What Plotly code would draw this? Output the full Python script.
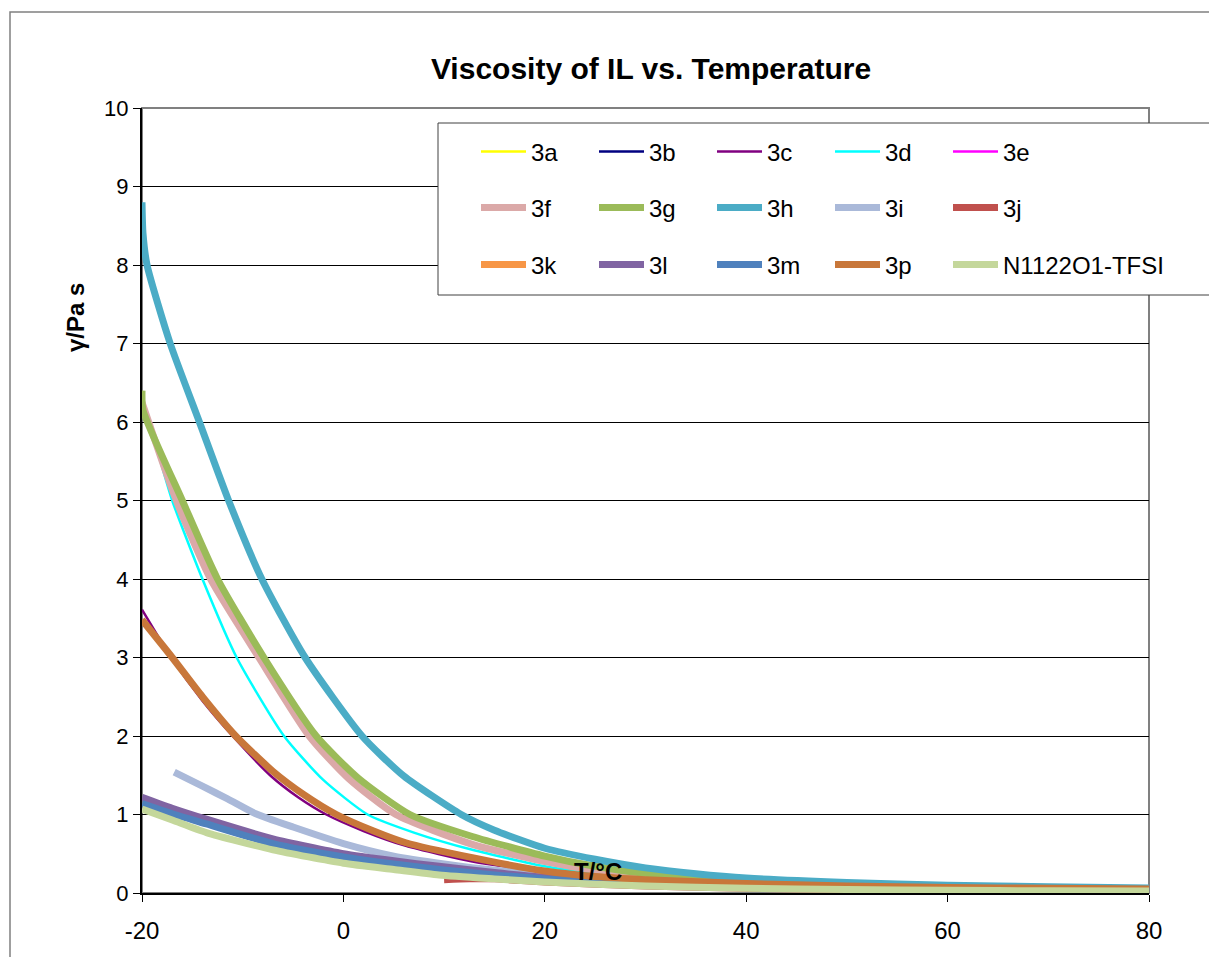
import plotly.graph_objects as go

# ---------------- data ----------------
names = ["3a", "3b", "3c", "3d", "3e", "3f", "3g", "3h", "3i", "3j",
         "3k", "3l", "3m", "3p", "N1122O1-TFSI"]

colors = ["#FFFF00", "#000080", "#800080", "#00FFFF", "#FF00FF",
          "#DBA9A8", "#9BBB59", "#4BACC6", "#AAB9D9", "#C0504D",
          "#F79646", "#8064A2", "#4F81BD", "#C8773A", "#C4D79B"]

widths = [2.5, 2.5, 2.5, 2.5, 2.5, 7, 7, 7, 7, 7, 7, 7, 7, 7, 7]

# series not visible in the plot area (only present in the legend)
t_3a, v_3a = [None], [None]
t_3b, v_3b = [None], [None]
t_3e, v_3e = [None], [None]
t_3k, v_3k = [None], [None]

t_3c = [-20, -17.1, -14, -11, -7.2, -4.5, -1.7, 2, 6.2, 12.8, 20, 25, 30, 40, 50, 60, 70, 80]
v_3c = [3.61, 3.0, 2.45, 2.0, 1.49, 1.22, 1.0, 0.79, 0.6, 0.4, 0.27, 0.2, 0.15, 0.095, 0.065, 0.05, 0.038, 0.03]

t_3d = [-20, -18.4, -17, -14, -10.6, -5.9, -2, 2.4, 7, 12.8, 20, 25, 30, 40, 50, 60, 70, 80]
v_3d = [6.2, 5.6, 5.0, 4.0, 3.0, 2.0, 1.44, 1.0, 0.77, 0.55, 0.34, 0.25, 0.19, 0.11, 0.075, 0.055, 0.042, 0.035]

t_3f = [-20, -16.6, -13.2, -8.4, -3.4, 0.5, 5.2, 12.8, 20, 25, 30, 40, 50, 60, 70, 80]
v_3f = [6.25, 5.0, 4.0, 3.0, 2.0, 1.46, 1.0, 0.62, 0.4, 0.29, 0.22, 0.13, 0.09, 0.065, 0.052, 0.045]

t_3g = [-20, -19.9, -16, -12.5, -7.9, -2.7, 1.5, 6.6, 12.8, 20, 25, 30, 35, 40, 50, 60, 70, 80]
v_3g = [6.4, 6.15, 5.0, 4.0, 3.0, 2.0, 1.46, 1.0, 0.72, 0.47, 0.34, 0.25, 0.19, 0.15, 0.1, 0.075, 0.06, 0.05]

t_3h = [-20, -19.9, -19.5, -17.2, -14.3, -11.4, -8.1, -3.8, 1.85, 6, 11.7, 15, 20, 25, 30, 35, 40, 50, 60, 70, 80]
v_3h = [8.8, 8.4, 8.0, 7.0, 6.0, 5.0, 4.0, 3.0, 2.0, 1.49, 1.0, 0.8, 0.57, 0.43, 0.32, 0.245, 0.19, 0.135, 0.1, 0.08, 0.065]

t_3i = [-16.8, -14, -11.5, -8.7, -5, 0, 5, 10, 15, 20, 25, 30, 40, 50, 60, 70, 80]
v_3i = [1.54, 1.36, 1.2, 1.01, 0.84, 0.63, 0.47, 0.37, 0.29, 0.24, 0.19, 0.15, 0.1, 0.07, 0.05, 0.04, 0.032]

t_3j = [10, 12.5, 15, 20, 30, 40, 50, 60, 70, 80]
v_3j = [0.17, 0.18, 0.18, 0.14, 0.09, 0.06, 0.045, 0.035, 0.028, 0.025]

t_3l = [-20, -17, -13.6, -7, 0, 5, 9.5, 15, 20, 30, 40, 50, 60, 70, 80]
v_3l = [1.22, 1.08, 0.94, 0.69, 0.5, 0.41, 0.34, 0.26, 0.2, 0.13, 0.09, 0.065, 0.05, 0.04, 0.035]

t_3m = [-20, -17, -13.6, -7, 0, 5, 9.5, 15, 20, 30, 40, 50, 60, 70, 80]
v_3m = [1.14, 1.01, 0.88, 0.63, 0.46, 0.37, 0.3, 0.23, 0.18, 0.12, 0.08, 0.058, 0.045, 0.036, 0.03]

t_3p = [-20, -17, -14, -10.7, -7, -4, -0.7, 3, 6.2, 12.8, 20, 25, 30, 40, 50, 60, 70, 80]
v_3p = [3.48, 3.0, 2.5, 2.0, 1.55, 1.26, 1.0, 0.79, 0.64, 0.45, 0.28, 0.21, 0.17, 0.12, 0.09, 0.07, 0.06, 0.05]

t_n = [-20, -17, -13.6, -7, 0, 5, 9.5, 15, 20, 30, 40, 50, 60, 70, 80]
v_n = [1.07, 0.93, 0.77, 0.55, 0.38, 0.3, 0.23, 0.18, 0.14, 0.09, 0.06, 0.045, 0.035, 0.028, 0.025]

series_t = [t_3a, t_3b, t_3c, t_3d, t_3e, t_3f, t_3g, t_3h, t_3i, t_3j,
            t_3k, t_3l, t_3m, t_3p, t_n]
series_v = [v_3a, v_3b, v_3c, v_3d, v_3e, v_3f, v_3g, v_3h, v_3i, v_3j,
            v_3k, v_3l, v_3m, v_3p, v_n]

x_ticks = [-20, 0, 20, 40, 60, 80]
x_ticktext = ["-20", "0", "20", "40", "60", "80"]
y_ticks = list(range(0, 11))

title_text = "Viscosity of IL vs. Temperature"
x_title = "T/°C"
y_title = "γ/Pa s"

# ---------------- figure ----------------
FONT = "Liberation Sans, Arial, sans-serif"
W, H = 1209, 957
ML, MR, MT, MB = 142, 60, 108, 64
PW, PH = W - ML - MR, H - MT - MB


def px_x(p):
    return (p - ML) / PW


def px_y(p):
    return (H - MB - p) / PH


legend_ids = ["legend"] * 5 + ["legend2"] * 5 + ["legend3"] * 5

fig = go.Figure()
for i, nm in enumerate(names):
    fig.add_trace(go.Scatter(
        x=series_t[i], y=series_v[i], name=nm, mode="lines",
        line=dict(color=colors[i], width=widths[i], shape="spline", smoothing=0.6),
        legend=legend_ids[i], showlegend=True,
        legendwidth=190 if nm.startswith("N") else None,
    ))

leg_common = dict(orientation="h", xanchor="left", yanchor="middle",
                  bgcolor="rgba(0,0,0,0)", borderwidth=0,
                  entrywidth=58, entrywidthmode="pixels", itemwidth=45,
                  font=dict(family=FONT, size=24, color="black"),
                  x=px_x(476))

fig.update_layout(
    width=W, height=H,
    margin=dict(l=ML, r=MR, t=MT, b=MB, autoexpand=False),
    paper_bgcolor="white", plot_bgcolor="white",
    font=dict(family=FONT, color="black"),
    title=dict(text=title_text, x=px_x(651), xref="paper", xanchor="center",
               y=1 - 68 / H, yanchor="middle",
               font=dict(family=FONT, size=30, color="black", weight="bold")),
    xaxis=dict(range=[-20, 80], tickvals=x_ticks, ticktext=x_ticktext,
               showgrid=False, zeroline=False,
               ticks="outside", ticklen=7, tickcolor="black", tickwidth=1,
               showline=True, linecolor="black", linewidth=2,
               ticklabelstandoff=8,
               tickfont=dict(family=FONT, size=24, color="black")),
    yaxis=dict(range=[0, 10], tickvals=y_ticks, showgrid=True, gridcolor="black",
               gridwidth=1, zeroline=False,
               ticks="outside", ticklen=7, tickcolor="black", tickwidth=1,
               showline=True, linecolor="black", linewidth=2,
               tickfont=dict(family=FONT, size=22, color="black")),
    legend=dict(**leg_common, y=px_y(152)),
    legend2=dict(**leg_common, y=px_y(208)),
    legend3=dict(**leg_common, y=px_y(265)),
)

# plot-area border (gray top/right) and outer chart border
fig.add_shape(type="rect", xref="paper", yref="paper", x0=0, y0=0, x1=1, y1=1,
              line=dict(color="#808080", width=2), layer="below")
fig.add_shape(type="rect", xref="paper", yref="paper",
              x0=px_x(10), x1=px_x(1230), y0=px_y(980), y1=px_y(12),
              line=dict(color="#808080", width=1.5), layer="above")
# legend box
fig.add_shape(type="rect", xref="paper", yref="paper",
              x0=px_x(438), x1=px_x(1230), y0=px_y(295), y1=px_y(123),
              line=dict(color="#404040", width=1), fillcolor="white", layer="above")

fig.add_annotation(text=x_title, xref="paper", yref="paper",
                   x=px_x(598), y=px_y(871), showarrow=False,
                   xanchor="center", yanchor="middle",
                   font=dict(family=FONT, size=24, color="black", weight="bold"))
fig.add_annotation(text=y_title, xref="paper", yref="paper",
                   x=px_x(75), y=px_y(318), showarrow=False, textangle=-90,
                   xanchor="center", yanchor="middle",
                   font=dict(family=FONT, size=24, color="black", weight="bold"))

fig.write_html("out.html")
